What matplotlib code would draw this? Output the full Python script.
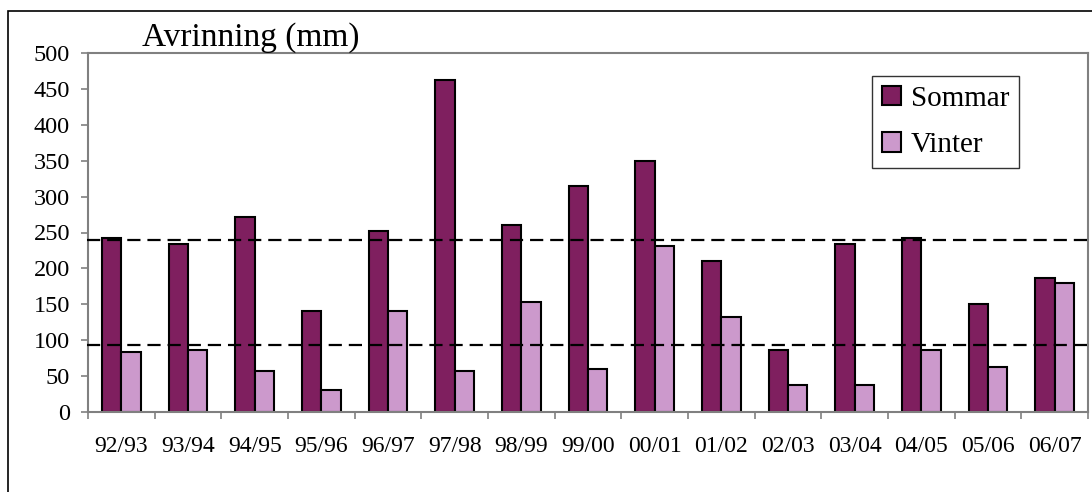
import numpy as np
import matplotlib
matplotlib.use('Agg')
import matplotlib.pyplot as plt
from matplotlib.patches import Rectangle

seasons = ['92/93', '93/94', '94/95', '95/96', '96/97', '97/98', '98/99', '99/00',
           '00/01', '01/02', '02/03', '03/04', '04/05', '05/06', '06/07']
sommar = [243, 234, 272, 141, 252, 462, 260, 315, 350, 211, 86, 234, 243, 150, 187]
vinter = [83, 86, 57, 31, 141, 57, 153, 60, 231, 133, 37, 37, 86, 63, 179]
ref_levels = [240, 94]

plt.rcParams['font.family'] = ['Liberation Serif', 'DejaVu Serif']
plt.rcParams['lines.scale_dashes'] = False

fig = plt.figure(figsize=(10.92, 4.92), dpi=100)
ax = fig.add_axes([88 / 1092, 1 - 412 / 492, 1000 / 1092, 359 / 492])

x = np.arange(len(seasons))
w = 0.29
ax.bar(x - w / 2, sommar, w, color='#7F1F5F', edgecolor='black', linewidth=1.5, label='Sommar', zorder=2)
ax.bar(x + w / 2, vinter, w, color='#CC99CC', edgecolor='black', linewidth=1.5, label='Vinter', zorder=2)

for lev in ref_levels:
    ax.plot([-0.52, len(seasons) - 0.5], [lev, lev], color='black', lw=1.6,
            dashes=(9.5, 5), clip_on=False, zorder=3)

ax.set_xlim(-0.5, len(seasons) - 0.5)
ax.set_ylim(0, 500)
ax.set_yticks(np.arange(0, 501, 50))
ax.set_xticks(np.arange(len(seasons) + 1) - 0.5)
ax.set_xticklabels([])
ax.set_xticks(x, minor=True)
ax.set_xticklabels(seasons, minor=True)
ax.tick_params(axis='x', which='minor', length=0, pad=17, labelsize=17)
ax.tick_params(axis='x', which='major', length=5, width=1.2, color='#808080')
ax.tick_params(axis='y', length=5, width=1.2, color='#808080', pad=8, labelsize=17.5)
for s in ax.spines.values():
    s.set_color('#808080')
    s.set_linewidth(1.5)

fig.text(142 / 1092, 1 - 46 / 492, 'Avrinning (mm)', fontsize=24, ha='left', va='baseline')

leg = ax.legend(loc='upper left', bbox_to_anchor=(872 / 1092, 1 - 76 / 492),
                bbox_transform=fig.transFigure, fontsize=21, frameon=True, fancybox=False,
                edgecolor='black', borderaxespad=0, handlelength=0.65, handleheight=0.65,
                handletextpad=0.35, borderpad=0.33, labelspacing=0.7)
leg.get_frame().set_linewidth(1.0)

fig.patches.append(Rectangle((8 / 1092, -0.1), 1.1, 1.1 - 11 / 492,
                             transform=fig.transFigure, fill=False, edgecolor='black', lw=1.2))

fig.savefig('out.png', dpi=100)
